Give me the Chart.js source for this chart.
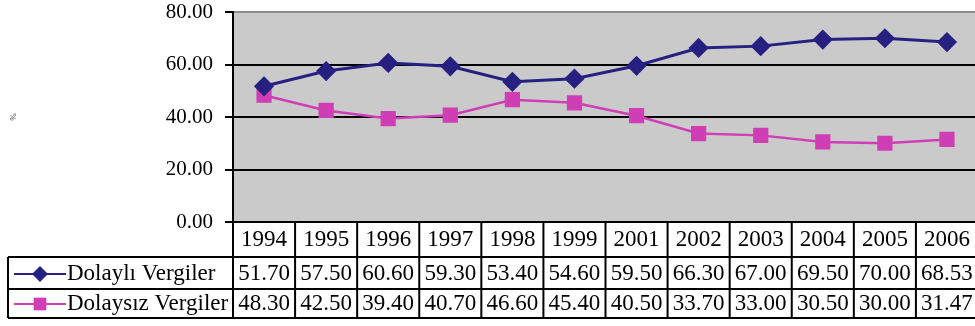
<!DOCTYPE html>
<html>
<head>
<meta charset="utf-8">
<script src="https://cdn.jsdelivr.net/npm/chart.js@4/dist/chart.umd.min.js"></script>
<style>
  html, body { margin: 0; padding: 0; background: #fff; overflow: hidden; }
  #wrap { width: 980px; height: 326px; }
</style>
</head>
<body>
<div id="wrap"><canvas id="myChart"></canvas></div>
<script>
// years and the two tax shares (%)
var years = ['1994', '1995', '1996', '1997', '1998', '1999', '2001', '2002', '2003', '2004', '2005', '2006'];
var dolayli = [51.70, 57.50, 60.60, 59.30, 53.40, 54.60, 59.50, 66.30, 67.00, 69.50, 70.00, 68.53];
var dolaysiz = [48.30, 42.50, 39.40, 40.70, 46.60, 45.40, 40.50, 33.70, 33.00, 30.50, 30.00, 31.47];
var seriesNames = ['Dolaylı Vergiler', 'Dolaysız Vergiler'];
var yTicks = [0, 20, 40, 60, 80];

var navy = '#262081';
var pink = '#d03eb6';
var serif = '"Liberation Serif", "Times New Roman", Times, serif';

// grey plot background
var plotBg = {
    id: 'plotBg',
    beforeDraw: function(chart) {
        var a = chart.chartArea, c = chart.ctx;
        c.save();
        c.fillStyle = '#cacaca';
        c.fillRect(a.left, a.top, a.right - a.left, a.bottom - a.top);
        c.restore();
    }
};

// data table under the plot, columns lined up with the x scale
var dataTable = {
    id: 'dataTable',
    afterDraw: function(chart) {
        var c = chart.ctx;
        var xs = chart.scales.x;
        var half = (xs.getPixelForValue(1) - xs.getPixelForValue(0)) / 2;
        var top = chart.chartArea.bottom;
        var rows = [top, 257, 289, 318];
        var legLeft = 8;
        var right = chart.width;

        c.save();
        c.strokeStyle = '#000';
        c.lineWidth = 2;
        c.beginPath();
        // horizontal rules
        c.moveTo(chart.chartArea.left, rows[0]); c.lineTo(right, rows[0]);
        for (var r = 1; r < rows.length; r++) {
            c.moveTo(legLeft, rows[r]); c.lineTo(right, rows[r]);
        }
        // legend column left edge
        c.moveTo(legLeft, rows[1]); c.lineTo(legLeft, rows[3]);
        // column separators
        for (var i = 0; i <= years.length; i++) {
            var x0 = xs.getPixelForValue(0) + (2 * i - 1) * half;
            c.moveTo(x0, rows[0]); c.lineTo(x0, rows[3]);
        }
        c.stroke();

        c.fillStyle = '#000';
        c.font = '23px ' + serif;
        c.textBaseline = 'middle';
        c.textAlign = 'center';
        var rowMid = [240, 274, 304];
        years.forEach(function(y, i) {
            c.fillText(y, xs.getPixelForValue(i), rowMid[0]);
        });
        chart.data.datasets.forEach(function(ds, k) {
            ds.data.forEach(function(v, i) {
                c.fillText(v.toFixed(2), xs.getPixelForValue(i), rowMid[k + 1]);
            });
        });

        // legend keys
        chart.data.datasets.forEach(function(ds, k) {
            var ym = rowMid[k + 1];
            c.strokeStyle = ds.borderColor;
            c.lineWidth = 2;
            c.beginPath();
            c.moveTo(14, ym); c.lineTo(66, ym);
            c.stroke();
            c.fillStyle = ds.pointBackgroundColor;
            Chart.helpers.drawPoint(c, {
                pointStyle: ds.pointStyle,
                radius: ds.pointRadius,
                borderWidth: 0
            }, 40, ym);
            c.fillStyle = '#000';
            c.textAlign = 'left';
            c.fillText(ds.label, 67, ym);
        });
        c.restore();
    }
};

var ctx = document.getElementById('myChart').getContext('2d');
var myLineChart = new Chart(ctx, {
    type: 'line',
    data: {
        labels: years,
        datasets: [{
            label: seriesNames[0],
            data: dolayli,
            borderColor: navy,
            backgroundColor: navy,
            pointBackgroundColor: navy,
            pointBorderColor: navy,
            pointStyle: 'rectRot',
            pointRadius: 8,
            borderWidth: 3
        }, {
            label: seriesNames[1],
            data: dolaysiz,
            borderColor: pink,
            backgroundColor: pink,
            pointBackgroundColor: pink,
            pointBorderColor: pink,
            pointStyle: 'rect',
            pointRadius: 9,
            borderWidth: 2.5
        }]
    },
    options: {
        responsive: true,
        maintainAspectRatio: false,
        animation: false,
        layout: { autoPadding: false, padding: { left: 0, top: 12, right: 2, bottom: 104 } },
        plugins: {
            legend: { display: false },
            tooltip: { enabled: false }
        },
        scales: {
            x: {
                display: false,
                offset: true
            },
            y: {
                min: 0,
                max: 80,
                afterFit: function(scale) {
                    scale.width = 233;
                    scale.paddingTop = 0;
                    scale.paddingBottom = 0;
                },
                afterBuildTicks: function(scale) {
                    scale.ticks = yTicks.map(function(v) { return { value: v }; });
                },
                ticks: {
                    color: '#000',
                    padding: 12,
                    font: { family: serif, size: 21 },
                    callback: function(v) { return Number(v).toFixed(2); }
                },
                grid: {
                    color: function(ctx) { return ctx.tick && ctx.tick.value === 80 ? '#8a8a8a' : '#000'; },
                    tickColor: '#000',
                    tickLength: 8,
                    lineWidth: 2
                },
                border: { display: true, color: '#000', width: 2 },
                title: {
                    display: true,
                    text: '%',
                    color: '#444',
                    font: { family: serif, size: 9 },
                    padding: { top: 8 }
                }
            }
        }
    },
    plugins: [plotBg, dataTable]
});
</script>
</body>
</html>
